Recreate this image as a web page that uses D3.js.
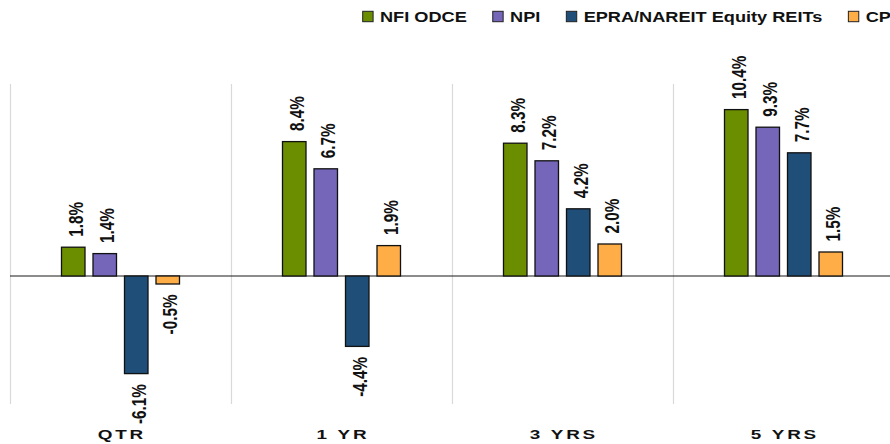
<!DOCTYPE html>
<html>
<head>
<meta charset="utf-8">
<script src="https://cdn.jsdelivr.net/npm/d3@7"></script>
<style>
  html, body { margin: 0; padding: 0; background: #fff; }
  svg { display: block; font-family: 'Liberation Sans', Arial, sans-serif; }
</style>
</head>
<body>
<svg id="chart" width="890" height="444"></svg>
<script>
// Periods and return series (annualized %, by period)
const categories = ["QTR", "1 YR", "3 YRS", "5 YRS"];
const seriesNames = ["NFI ODCE", "NPI", "EPRA/NAREIT Equity REITs", "CPI"];
const nfiOdce = [1.8, 8.4, 8.3, 10.4];
const npi = [1.4, 6.7, 7.2, 9.3];
const epraNareit = [-6.1, -4.4, 4.2, 7.7];
const cpi = [-0.5, 1.9, 2.0, 1.5];
const seriesColors = ["#6b8e00", "#7566ba", "#1f4e79", "#ffad46"];

const seriesValues = [nfiOdce, npi, epraNareit, cpi];
const rows = categories.map((c, i) => ({
  category: c,
  values: seriesNames.map((s, j) => ({ series: s, value: seriesValues[j][i], color: seriesColors[j] }))
}));

const svg = d3.select("#chart");

// Scales
const x0 = d3.scaleBand().domain(categories).range([10, 894]).paddingInner(0).paddingOuter(0);
const groupWidth = 118;
const x1 = d3.scaleBand().domain(seriesNames).range([0, groupWidth]).paddingInner(0.254).paddingOuter(0);
const groupOffset = (x0.bandwidth() - groupWidth) / 2;
const y = d3.scaleLinear().domain([-8, 12]).range([404, 84]);

// Vertical separators between periods
const seps = categories.map(c => x0(c)).concat([x0.range()[1]]);
svg.append("g").selectAll("line").data(seps).join("line")
  .attr("x1", d => d + 0.5).attr("x2", d => d + 0.5)
  .attr("y1", y(12)).attr("y2", y(-8))
  .attr("stroke", "#d9d9d9").attr("stroke-width", 1.2);

// Zero baseline
svg.append("line")
  .attr("x1", x0.range()[0]).attr("x2", 890)
  .attr("y1", y(0)).attr("y2", y(0))
  .attr("stroke", "#1a1a1a").attr("stroke-width", 1.2);

// Bars
const groups = svg.append("g").selectAll("g").data(rows).join("g")
  .attr("transform", d => `translate(${x0(d.category) + groupOffset},0)`);

groups.selectAll("rect").data(d => d.values).join("rect")
  .attr("x", d => x1(d.series))
  .attr("width", x1.bandwidth())
  .attr("y", d => y(Math.max(0, d.value)))
  .attr("height", d => Math.abs(y(d.value) - y(0)))
  .attr("fill", d => d.color)
  .attr("stroke", "#111")
  .attr("stroke-width", 1.3);

// Value labels, rotated, above positive bars and below negative ones
const fmt = d3.formatLocale({ decimal: ".", thousands: ",", grouping: [3], currency: ["", ""], minus: "-" }).format(".1f");
const gap = 10.5;
groups.selectAll("text").data(d => d.values).join("text")
  .attr("transform", d => {
    const cx = x1(d.series) + x1.bandwidth() / 2 + 3;
    const cy = d.value >= 0 ? y(d.value) - gap : y(d.value) + gap;
    return `translate(${cx},${cy}) scale(1.27,1) rotate(-90)`;
  })
  .attr("text-anchor", d => d.value >= 0 ? "start" : "end")
  .attr("dominant-baseline", "central")
  .attr("font-size", 15.3)
  .attr("font-weight", "bold")
  .attr("fill", "#111")
  .text(d => fmt(d.value) + "%");

// Period labels
const ls = 2;
svg.append("g").selectAll("text").data(categories).join("text")
  .attr("transform", d => `translate(${x0(d) + x0.bandwidth() / 2},438.5) scale(1.4,1)`)
  .attr("dx", ls / 2)
  .attr("text-anchor", "middle")
  .attr("font-size", 13.5)
  .attr("font-weight", "bold")
  .attr("letter-spacing", ls)
  .attr("fill", "#111")
  .text(d => d);

// Legend, laid out left to right (runs past the right edge)
const legend = svg.append("g");
let lx = 362.7;
const legendScale = 1.18;
seriesNames.forEach((name, i) => {
  legend.append("rect")
    .attr("x", lx).attr("y", 11.3)
    .attr("width", 10.4).attr("height", 10.4)
    .attr("fill", seriesColors[i])
    .attr("stroke", "#222").attr("stroke-width", 1);
  const tx = lx + 17.3;
  const t = legend.append("text")
    .attr("transform", `translate(${tx},21.7) scale(${legendScale},1)`)
    .attr("font-size", 15.4)
    .attr("font-weight", "bold")
    .attr("fill", "#111")
    .text(name);
  const w = t.node().getComputedTextLength() * legendScale;
  lx = tx + w + 26;
});
</script>
</body>
</html>
